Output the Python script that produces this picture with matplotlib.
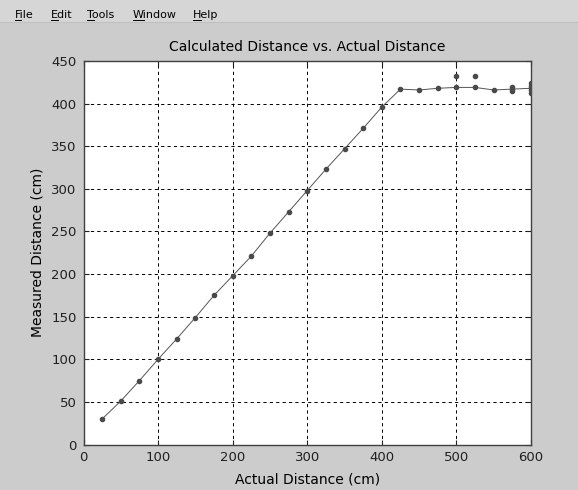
import matplotlib
matplotlib.use("Agg")
import matplotlib.pyplot as plt
from matplotlib.lines import Line2D
from matplotlib.patches import Rectangle

actual = [25, 50, 75, 100, 125, 150, 175, 200, 225, 250, 275, 300,
          325, 350, 375, 400, 425, 450, 475, 500, 525, 550, 575, 600]
measured = [30, 51, 75, 100, 124, 149, 175, 198, 221, 248, 273, 298,
            323, 347, 371, 396, 417, 416, 418, 419, 419, 416, 417, 418]

# repeated readings that fall off the line
extra_x = [500, 525, 575, 575, 600, 600, 600, 600]
extra_y = [432, 432, 415, 419, 413, 416, 421, 424]

x_ticks = [0, 100, 200, 300, 400, 500, 600]
y_ticks = [0, 50, 100, 150, 200, 250, 300, 350, 400, 450]

menu_items = ["File", "Edit", "Tools", "Window", "Help"]
menu_x = [15, 51, 87, 133, 193]

W, H = 578, 490
plt.rcParams["font.family"] = "DejaVu Sans"
plt.rcParams["lines.scale_dashes"] = False

fig = plt.figure(figsize=(W / 100, H / 100), dpi=100, facecolor="#cccccc")

# menu bar strip
fig.patches.append(Rectangle((0, 1 - 22 / H), 1, 22 / H, transform=fig.transFigure,
                             facecolor="#d6d6d6", edgecolor="none", zorder=0))
fig.lines.append(Line2D([0, 1], [1 - 22 / H] * 2, transform=fig.transFigure,
                        color="#c0c0c0", lw=0.8))

menu_texts = []
for name, px in zip(menu_items, menu_x):
    t = fig.text(px / W, 1 - 15 / H, name, fontsize=8, va="center", ha="left", color="black")
    menu_texts.append(t)

ax = fig.add_axes([83.5 / W, (H - 444.5) / H, (531 - 83.5) / W, (444.5 - 61) / H])
ax.set_facecolor("white")

ax.plot(actual, measured, color="#555555", lw=0.7, marker="o", ms=3,
        mfc="#4a4a4a", mec="#4a4a4a", zorder=3)
ax.plot(extra_x, extra_y, linestyle="none", marker="o", ms=3,
        mfc="#4a4a4a", mec="#4a4a4a", zorder=3)

ax.set_xlim(0, 600)
ax.set_ylim(0, 450)
ax.set_xticks(x_ticks)
ax.set_yticks(y_ticks)
ax.grid(True, color="black", lw=0.7, linestyle=(0, (2.3, 2.3)))
ax.tick_params(direction="in", length=3.5, width=0.8, labelsize=9.5, pad=5,
               top=True, right=True, colors="#202020")
for s in ax.spines.values():
    s.set_color("#404040")
    s.set_linewidth(1.0)

ax.set_title("Calculated Distance vs. Actual Distance", fontsize=10, pad=7)
ax.set_xlabel("Actual Distance (cm)", fontsize=10, labelpad=6)
ax.set_ylabel("Measured Distance (cm)", fontsize=10, labelpad=5)

# underline the first letter of each menu item
fig.canvas.draw()
r = fig.canvas.get_renderer()
for t, name in zip(menu_texts, menu_items):
    bb = t.get_window_extent(r)
    tmp = fig.text(0, 0, name[0], fontsize=8)
    w = tmp.get_window_extent(r).width
    tmp.remove()
    y = bb.y0
    fig.lines.append(Line2D([bb.x0 / W, (bb.x0 + w) / W], [y / H, y / H],
                            transform=fig.transFigure, color="black", lw=0.7))

fig.savefig("out.png", dpi=100, facecolor=fig.get_facecolor())
